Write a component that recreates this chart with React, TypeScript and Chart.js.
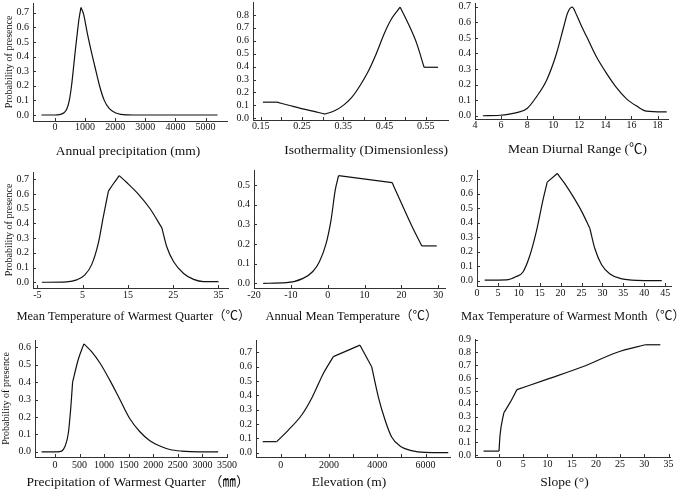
import React, { useEffect, useRef } from "react";
import { Chart, registerables } from "chart.js";

Chart.register(...registerables);

const W = 685;
const H = 491;
const SERIF = "'Liberation Serif', 'Times New Roman', 'Noto Sans CJK SC', serif";
const INK = "#111";
const AXIS = "#333";

// ---- Data ----
const annualPrecipX = [-450, 0, 150, 300, 400, 476, 550, 619, 680, 741, 800, 863, 950, 1073, 1200, 1327, 1480, 1637, 1800, 2000, 2200, 2400, 2600, 5400];
const annualPrecipY = [0, 0, 0.003, 0.015, 0.045, 0.1, 0.2, 0.33, 0.45, 0.56, 0.66, 0.735, 0.69, 0.56, 0.44, 0.33, 0.2, 0.1, 0.045, 0.015, 0.004, 0.001, 0, 0];

const isoX = [0.155, 0.189, 0.225, 0.265, 0.306, 0.33, 0.35, 0.37, 0.39, 0.41, 0.43, 0.45, 0.467, 0.488, 0.508, 0.528, 0.546, 0.58];
const isoY = [0.125, 0.125, 0.095, 0.063, 0.033, 0.06, 0.1, 0.16, 0.25, 0.36, 0.5, 0.66, 0.77, 0.86, 0.73, 0.58, 0.395, 0.395];

const diurnalX = [4.6, 5.9, 7.2, 8.0, 8.7, 9.5, 10.25, 10.8, 11.1, 11.45, 11.8, 12.2, 12.55, 13.3, 14.1, 14.85, 15.6, 16.4, 17.15, 18.7];
const diurnalY = [0, 0.003, 0.02, 0.047, 0.12, 0.23, 0.4, 0.57, 0.66, 0.697, 0.645, 0.57, 0.51, 0.38, 0.27, 0.18, 0.11, 0.062, 0.03, 0.025];

const mtwqX = [-4.0, 1.5, 3.7, 5.5, 7.0, 8.5, 9.6, 10.7, 11.8, 13.1, 14.7, 17.3, 19.9, 22.5, 23.6, 25.1, 27.3, 29.5, 31.7, 35];
const mtwqY = [0, 0.003, 0.016, 0.05, 0.12, 0.27, 0.45, 0.62, 0.67, 0.725, 0.68, 0.6, 0.5, 0.37, 0.24, 0.14, 0.06, 0.02, 0.005, 0.005];

const amtX = [-17.5, -11.2, -6.7, -4.05, -2.26, -0.47, 0.88, 2.04, 2.94, 17.46, 20.14, 22.83, 25.52, 29.55];
const amtY = [0, 0.003, 0.025, 0.06, 0.11, 0.2, 0.32, 0.475, 0.547, 0.512, 0.4, 0.29, 0.19, 0.19];

const mtwmX = [1.84, 7.0, 9.4, 11.0, 12.6, 14.2, 15.8, 16.8, 19.2, 21.0, 23.0, 25.0, 27.0, 28.2, 29.8, 31.8, 34.2, 38.2, 44.2];
const mtwmY = [0.003, 0.005, 0.028, 0.06, 0.17, 0.34, 0.56, 0.68, 0.74, 0.67, 0.58, 0.48, 0.36, 0.22, 0.11, 0.046, 0.016, 0.002, 0];

const pwqX = [-271, 34, 136, 203, 271, 318, 359, 474, 589, 745, 915, 1118, 1321, 1524, 1728, 1931, 2134, 2337, 2575, 2947, 3320];
const pwqY = [0, 0, 0.004, 0.03, 0.105, 0.24, 0.4, 0.53, 0.62, 0.575, 0.51, 0.41, 0.3, 0.19, 0.115, 0.063, 0.033, 0.013, 0.004, 0, 0];

const elevX = [-745, -166, 317, 869, 1283, 1766, 2179, 3283, 3766, 4041, 4317, 4593, 4938, 5421, 5972, 6938];
const elevY = [0.077, 0.077, 0.158, 0.263, 0.38, 0.553, 0.67, 0.75, 0.6, 0.39, 0.23, 0.11, 0.047, 0.014, 0.002, 0];

const slopeX = [-3.2, 0, 0.2, 1.0, 2.3, 3.7, 9.85, 17.4, 24.3, 30.2, 33.3];
const slopeY = [0.03, 0.03, 0.15, 0.33, 0.41, 0.51, 0.59, 0.69, 0.8, 0.86, 0.86];

// indices of sharp corners in each response curve
const annualPrecipKinks = [11];
const isoKinks = [1, 4, 13, 16];
const diurnalKinks: number[] = [];
const mtwqKinks = [7, 9, 13];
const amtKinks = [8, 9, 12];
const mtwmKinks = [7, 8, 12];
const pwqKinks = [6, 8];
const elevKinks = [1, 6, 7, 8];
const slopeKinks = [1, 3, 5, 9];

// ---- Tick values ----
const yTicks5 = [0, 0.1, 0.2, 0.3, 0.4, 0.5];
const yTicks6 = [0, 0.1, 0.2, 0.3, 0.4, 0.5, 0.6];
const yTicks7 = [0, 0.1, 0.2, 0.3, 0.4, 0.5, 0.6, 0.7];
const yTicks8 = [0, 0.1, 0.2, 0.3, 0.4, 0.5, 0.6, 0.7, 0.8];
const yTicks9 = [0, 0.1, 0.2, 0.3, 0.4, 0.5, 0.6, 0.7, 0.8, 0.9];

const precipTicks = [0, 1000, 2000, 3000, 4000, 5000];
const isoTicks = [0.15, 0.2, 0.25, 0.3, 0.35, 0.4, 0.45, 0.5, 0.55];
const isoLabels = [0.15, 0.25, 0.35, 0.45, 0.55];
const diurnalTicks = [4, 6, 8, 10, 12, 14, 16, 18];
const mtwqTicks = [-5, 5, 15, 25, 35];
const amtTicks = [-20, -10, 0, 10, 20, 30];
const mtwmTicks = [0, 5, 10, 15, 20, 25, 30, 35, 40, 45];
const pwqTicks = [0, 500, 1000, 1500, 2000, 2500, 3000, 3500];
const elevTicks = [0, 1000, 2000, 3000, 4000, 5000, 6000];
const elevLabels = [0, 2000, 4000, 6000];
const slopeTicks = [0, 5, 10, 15, 20, 25, 30, 35];

type PanelCfg = {
  xs: number[];
  ys: number[];
  kinks: number[];
  area: [number, number, number, number];
  xRange: [number, number];
  yRange: [number, number];
  xTicks: number[];
  xLabels?: number[];
  xDecimals?: number;
  yTicks: number[];
  title: string;
  titleSize: number;
  titleAlign?: "center" | "end";
  titleDx?: number;
  titleDy: number;
  yTitle?: boolean;
  yw: number;
  xPad: number;
};

const panels: PanelCfg[] = [
  { xs: annualPrecipX, ys: annualPrecipY, kinks: annualPrecipKinks, area: [33, 3, 227, 121], xRange: [-730, 5714], yRange: [-0.041, 0.766], xTicks: precipTicks, yTicks: yTicks7, title: "Annual precipitation (mm)", titleSize: 13.5, titleDx: -2, titleDy: 30.5, yTitle: true, yw: 29.5, xPad: 0.5 },
  { xs: isoX, ys: isoY, kinks: isoKinks, area: [253, 2, 448, 120], xRange: [0.131, 0.604], yRange: [-0.013, 0.9], xTicks: isoTicks, xLabels: isoLabels, xDecimals: 2, yTicks: yTicks8, title: "Isothermality (Dimensionless)", titleSize: 13.5, titleAlign: "end", titleDy: 30, yw: 30, xPad: 0.5 },
  { xs: diurnalX, ys: diurnalY, kinks: diurnalKinks, area: [475, 3, 668, 119], xRange: [4, 18.8], yRange: [-0.021, 0.724], xTicks: diurnalTicks, yTicks: yTicks7, title: "Mean Diurnal Range (℃)", titleSize: 13.5, titleDx: 6, titleDy: 30.3, yw: 30, xPad: 0.8 },
  { xs: mtwqX, ys: mtwqY, kinks: mtwqKinks, area: [33, 172, 228, 288], xRange: [-5.95, 37.1], yRange: [-0.039, 0.75], xTicks: mtwqTicks, yTicks: yTicks7, title: "Mean Temperature of Warmest Quarter（℃）", titleSize: 12.5, titleDx: 3, titleDy: 29, yTitle: true, yw: 29.5, xPad: 1.3 },
  { xs: amtX, ys: amtY, kinks: amtKinks, area: [254, 170, 445, 288], xRange: [-20, 31.8], yRange: [-0.024, 0.576], xTicks: amtTicks, yTicks: yTicks5, title: "Annual Mean Temperature（℃）", titleSize: 12.5, titleDx: 2, titleDy: 29, yw: 30, xPad: 1.3 },
  { xs: mtwmX, ys: mtwmY, kinks: mtwmKinks, area: [477, 170, 671, 286], xRange: [0, 46.4], yRange: [-0.037, 0.764], xTicks: mtwmTicks, yTicks: yTicks7, title: "Max Temperature of Warmest Month（℃）", titleSize: 12.5, titleDx: -1, titleDy: 31, yw: 30, xPad: 1.3 },
  { xs: pwqX, ys: pwqY, kinks: pwqKinks, area: [35, 340, 227, 457], xRange: [-406, 3500], yRange: [-0.03, 0.642], xTicks: pwqTicks, yTicks: yTicks6, title: "Precipitation of Warmest Quarter （㎜）", titleSize: 13.5, titleDx: 7, titleDy: 25, yTitle: true, yw: 34.5, xPad: 2.3 },
  { xs: elevX, ys: elevY, kinks: elevKinks, area: [256, 340, 450, 457], xRange: [-1023, 7010], yRange: [-0.03, 0.786], xTicks: elevTicks, xLabels: elevLabels, yTicks: yTicks7, title: "Elevation (m)", titleSize: 13.5, titleDx: -4, titleDy: 25, yw: 30, xPad: 2.3 },
  { xs: slopeX, ys: slopeY, kinks: slopeKinks, area: [475, 339, 670, 457], xRange: [-4.96, 35.3], yRange: [-0.016, 0.905], xTicks: slopeTicks, yTicks: yTicks9, title: "Slope (°)", titleSize: 13.5, titleDx: -8, titleDy: 25, yw: 30, xPad: 1.8 },
];

const XH = 20; // height reserved for the x tick labels

function zeroPad(s: any) {
  s.paddingLeft = 0;
  s.paddingRight = 0;
  s.paddingTop = 0;
  s.paddingBottom = 0;
}

// split the curve at its sharp corners so each piece is smoothed separately
function pieces(cfg: PanelCfg) {
  const cuts = [0, ...cfg.kinks, cfg.xs.length - 1];
  const out: { x: number; y: number }[][] = [];
  for (let k = 0; k < cuts.length - 1; k++) {
    const seg: { x: number; y: number }[] = [];
    for (let i = cuts[k]; i <= cuts[k + 1]; i++) seg.push({ x: cfg.xs[i], y: cfg.ys[i] });
    out.push(seg);
  }
  return out;
}

function Panel({ cfg }: { cfg: PanelCfg }) {
  const ref = useRef<HTMLCanvasElement>(null);
  useEffect(() => {
    const [L, T, R, B] = cfg.area;
    const labelled = cfg.xLabels ?? cfg.xTicks;
    const decor = {
      id: "decor",
      afterDraw(chart: any) {
        const ctx = chart.ctx;
        const ca = chart.chartArea;
        const xs = chart.scales.x;
        const ys = chart.scales.y;
        ctx.save();
        ctx.strokeStyle = AXIS;
        ctx.lineWidth = 1;
        ctx.beginPath();
        for (const t of xs.ticks) {
          const px = Math.round(xs.getPixelForValue(t.value)) + 0.5;
          ctx.moveTo(px, ca.bottom);
          ctx.lineTo(px, ca.bottom - 3);
        }
        for (const t of ys.ticks) {
          const py = Math.round(ys.getPixelForValue(t.value)) + 0.5;
          ctx.moveTo(ca.left, py);
          ctx.lineTo(ca.left + 3, py);
        }
        ctx.stroke();
        ctx.fillStyle = INK;
        ctx.font = `${cfg.titleSize}px ${SERIF}`;
        ctx.textBaseline = "middle";
        if (cfg.titleAlign === "end") {
          ctx.textAlign = "right";
          ctx.fillText(cfg.title, ca.right + (cfg.titleDx ?? 0), ca.bottom + cfg.titleDy);
        } else {
          ctx.textAlign = "center";
          ctx.fillText(cfg.title, (ca.left + ca.right) / 2 + (cfg.titleDx ?? 0), ca.bottom + cfg.titleDy);
        }
        ctx.restore();
      },
    };
    const chart = new Chart(ref.current as HTMLCanvasElement, {
      type: "line",
      data: {
        datasets: pieces(cfg).map(
          (seg) =>
            ({
              data: seg,
              borderColor: INK,
              borderWidth: 1.2,
              pointRadius: 0,
              cubicInterpolationMode: "monotone",
              fill: false,
            }) as any,
        ),
      },
      options: {
        animation: false,
        responsive: false,
        devicePixelRatio: 1,
        events: [],
        layout: { padding: { left: L - cfg.yw, top: T, right: W - R, bottom: H - B - XH } },
        plugins: { legend: { display: false }, tooltip: { enabled: false } },
        scales: {
          x: {
            type: "linear",
            min: cfg.xRange[0],
            max: cfg.xRange[1],
            afterBuildTicks: (s: any) => {
              s.ticks = cfg.xTicks.map((v) => ({ value: v }));
            },
            afterFit: (s: any) => {
              s.height = XH;
              zeroPad(s);
            },
            ticks: {
              autoSkip: false,
              maxRotation: 0,
              minRotation: 0,
              padding: cfg.xPad,
              color: INK,
              font: { family: SERIF, size: 10 },
              callback: (v: any) =>
                labelled.includes(Number(v))
                  ? cfg.xDecimals
                    ? Number(v).toFixed(cfg.xDecimals)
                    : String(v)
                  : "",
            },
            grid: { display: false, drawTicks: false, tickLength: 0 },
            border: { display: true, color: AXIS, width: 1 },
            title: { display: false },
          },
          y: {
            type: "linear",
            min: cfg.yRange[0],
            max: cfg.yRange[1],
            afterBuildTicks: (s: any) => {
              s.ticks = cfg.yTicks.map((v) => ({ value: v }));
            },
            afterFit: (s: any) => {
              s.width = cfg.yw;
              zeroPad(s);
            },
            ticks: {
              autoSkip: false,
              padding: 4,
              color: INK,
              font: { family: SERIF, size: 10 },
              callback: (v: any) => Number(v).toFixed(1),
            },
            grid: { display: false, drawTicks: false, tickLength: 0 },
            border: { display: true, color: AXIS, width: 1 },
            title: {
              display: !!cfg.yTitle,
              text: "Probability of presence",
              color: INK,
              padding: 0,
              font: { family: SERIF, size: 10 },
            },
          },
        },
      },
      plugins: [decor],
    });
    return () => chart.destroy();
  }, [cfg]);
  return (
    <canvas
      ref={ref}
      width={W}
      height={H}
      style={{ position: "absolute", left: 0, top: 0, width: W, height: H }}
    />
  );
}

export default function App() {
  return (
    <div style={{ position: "absolute", left: 0, top: 0, width: W, height: H, background: "#fff", overflow: "hidden" }}>
      {panels.map((p, i) => (
        <Panel key={i} cfg={p} />
      ))}
    </div>
  );
}
